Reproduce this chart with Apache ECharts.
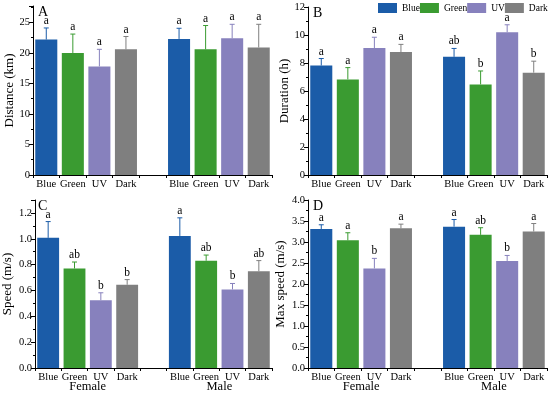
<!DOCTYPE html>
<html><head><meta charset="utf-8">
<script src="https://cdn.jsdelivr.net/npm/echarts@6/dist/echarts.min.js"></script>
<style>html,body{margin:0;padding:0;background:#fff}#c{width:550px;height:397px}</style>
</head><body><div id="c"></div>
<script>
const treatments = ['Blue', 'Green', 'UV', 'Dark'];
const sexes = ['Female', 'Male'];
const categories = ['Blue', 'Green', 'UV', 'Dark', '', 'Blue', 'Green', 'UV', 'Dark'];
const colors = ['#1b5ca8', '#3a9b31', '#8781bd', '#7f7f7f'];

// Panel A: Distance (km)
const distFemale = [22.2, 20.0, 17.8, 20.6];
const distFemaleErr = [1.9, 3.1, 2.8, 2.1];
const distMale = [22.3, 20.6, 22.4, 20.9];
const distMaleErr = [1.75, 3.9, 2.3, 3.8];
const distFemaleLetters = ['a', 'a', 'a', 'a'];
const distMaleLetters = ['a', 'a', 'a', 'a'];

// Panel B: Duration (h)
const durFemale = [7.82, 6.83, 9.07, 8.78];
const durFemaleErr = [0.5, 0.84, 0.77, 0.55];
const durMale = [8.44, 6.47, 10.2, 7.31];
const durMaleErr = [0.6, 0.96, 0.53, 0.82];
const durFemaleLetters = ['a', 'a', 'a', 'a'];
const durMaleLetters = ['ab', 'b', 'a', 'b'];

// Panel C: Speed (m/s)
const spdFemale = [1.007, 0.77, 0.525, 0.644];
const spdFemaleErr = [0.126, 0.05, 0.057, 0.04];
const spdMale = [1.022, 0.83, 0.608, 0.749];
const spdMaleErr = [0.14, 0.044, 0.046, 0.082];
const spdFemaleLetters = ['a', 'ab', 'b', 'b'];
const spdMaleLetters = ['a', 'ab', 'b', 'ab'];

// Panel D: Max speed (m/s)
const maxFemale = [3.31, 3.04, 2.37, 3.325];
const maxFemaleErr = [0.1, 0.18, 0.24, 0.1];
const maxMale = [3.365, 3.17, 2.55, 3.25];
const maxMaleErr = [0.17, 0.17, 0.13, 0.19];
const maxFemaleLetters = ['a', 'a', 'b', 'a'];
const maxMaleLetters = ['a', 'ab', 'b', 'a'];

const panels = [
  {letter: 'A', name: 'Distance (km)', max: 27.7, interval: 5, dec: 0, gap: 13, f: distFemale, fe: distFemaleErr, m: distMale, me: distMaleErr, fl: distFemaleLetters, ml: distMaleLetters},
  {letter: 'B', name: 'Duration (h)', max: 12, interval: 2, dec: 0, gap: 15, f: durFemale, fe: durFemaleErr, m: durMale, me: durMaleErr, fl: durFemaleLetters, ml: durMaleLetters},
  {letter: 'C', name: 'Speed (m/s)', max: 1.3, interval: 0.2, dec: 1, gap: 21, f: spdFemale, fe: spdFemaleErr, m: spdMale, me: spdMaleErr, fl: spdFemaleLetters, ml: spdMaleLetters},
  {letter: 'D', name: 'Max speed (m/s)', max: 4.0, interval: 0.5, dec: 1, gap: 21, f: maxFemale, fe: maxFemaleErr, m: maxMale, me: maxMaleErr, fl: maxFemaleLetters, ml: maxMaleLetters}
];

const FONT = 'Liberation Serif';
const grids = [
  {left: 33, right: 278, top: 6, bottom: 222},
  {left: 308, right: 3, top: 7, bottom: 222},
  {left: 33, right: 278, top: 200, bottom: 29},
  {left: 308, right: 3, top: 200, bottom: 29}
];

const xAxes = [], yAxes = [], series = [];
panels.forEach((p, i) => {
  xAxes.push({
    type: 'category', gridIndex: i, data: categories,
    axisLine: {lineStyle: {color: '#000', width: 1}},
    axisTick: {show: true, length: 3, lineStyle: {color: '#000'}},
    axisLabel: {color: '#000', fontFamily: FONT, fontSize: 10.5, margin: 4, interval: 0}
  });
  yAxes.push({
    type: 'value', gridIndex: i, min: 0, max: p.max, interval: p.interval,
    name: p.name, nameLocation: 'middle', nameGap: p.gap,
    nameTextStyle: {color: '#000', fontFamily: FONT, fontSize: 13},
    axisLine: {show: true, lineStyle: {color: '#000', width: 1}},
    axisTick: {show: true, length: 4, lineStyle: {color: '#000'}},
    minorTick: {show: true, splitNumber: 2, length: 2, lineStyle: {color: '#000'}},
    splitLine: {show: false},
    axisLabel: {
      color: '#000', fontFamily: FONT, fontSize: 10.5, margin: 3,
      formatter: v => {
        const r = Math.round(v / p.interval) * p.interval;
        if (Math.abs(r - v) > 1e-6) return '';
        return v.toFixed(p.dec);
      }
    }
  });
  treatments.forEach((t, k) => {
    const d = categories.map(() => null);
    d[k] = p.f[k];
    d[k + 5] = p.m[k];
    series.push({
      name: t, type: 'bar', xAxisIndex: i, yAxisIndex: i, data: d,
      barWidth: '83%', barGap: '-100%',
      itemStyle: {color: colors[k]}, z: 2
    });
  });
  const errData = [], letters = [];
  treatments.forEach((t, k) => {
    errData.push([k, p.f[k], p.fe[k], k]); letters.push(p.fl[k]);
  });
  treatments.forEach((t, k) => {
    errData.push([k + 5, p.m[k], p.me[k], k]); letters.push(p.ml[k]);
  });
  series.push({
    type: 'custom', xAxisIndex: i, yAxisIndex: i, data: errData, z: 3, clip: false,
    encode: {x: 0, y: 1},
    renderItem: (params, api) => {
      const x = api.value(0), v = api.value(1), e = api.value(2), k = api.value(3);
      const p0 = api.coord([x, v]);
      const p1 = api.coord([x, v + e]);
      const col = colors[k];
      return {
        type: 'group',
        children: [
          {type: 'line', shape: {x1: p0[0], y1: p0[1], x2: p1[0], y2: p1[1]}, style: {stroke: col, lineWidth: 1}},
          {type: 'line', shape: {x1: p1[0] - 2.5, y1: p1[1], x2: p1[0] + 2.5, y2: p1[1]}, style: {stroke: col, lineWidth: 1}},
          {type: 'text', x: p1[0], y: p1[1] - 1, style: {text: letters[params.dataIndex], fill: '#000', font: '11.5px "' + FONT + '"', align: 'center', verticalAlign: 'bottom'}}
        ]
      };
    }
  });
});

const chart = echarts.init(document.getElementById('c'), null, {renderer: 'canvas'});
chart.setOption({
  animation: false,
  backgroundColor: '#fff',
  grid: grids,
  xAxis: xAxes,
  yAxis: yAxes,
  legend: {
    data: treatments, left: 378, top: 3, width: 260, itemWidth: 19, itemHeight: 10, itemGap: 0,
    padding: 0,
    icon: 'rect',
    textStyle: {color: '#000', fontFamily: FONT, fontSize: 9.5}
  },
  series: series
});

// panel letters and sex labels positioned from the axes
const gfx = [];
panels.forEach((p, i) => {
  gfx.push({type: 'text', left: grids[i].left + 5, top: grids[i].top - 1,
    style: {text: p.letter, font: '14px "' + FONT + '"', fill: '#000'}});
});
[2, 3].forEach(i => {
  const yb = chart.convertToPixel({yAxisIndex: i}, 0);
  sexes.forEach((s, j) => {
    const a = chart.convertToPixel({xAxisIndex: i}, j * 5 + 1);
    const b = chart.convertToPixel({xAxisIndex: i}, j * 5 + 2);
    gfx.push({type: 'text', x: (a + b) / 2, y: yb + 19,
      style: {text: s, font: '12.5px "' + FONT + '"', fill: '#000', align: 'center', verticalAlign: 'middle'}});
  });
});
chart.setOption({graphic: gfx});
</script></body></html>
